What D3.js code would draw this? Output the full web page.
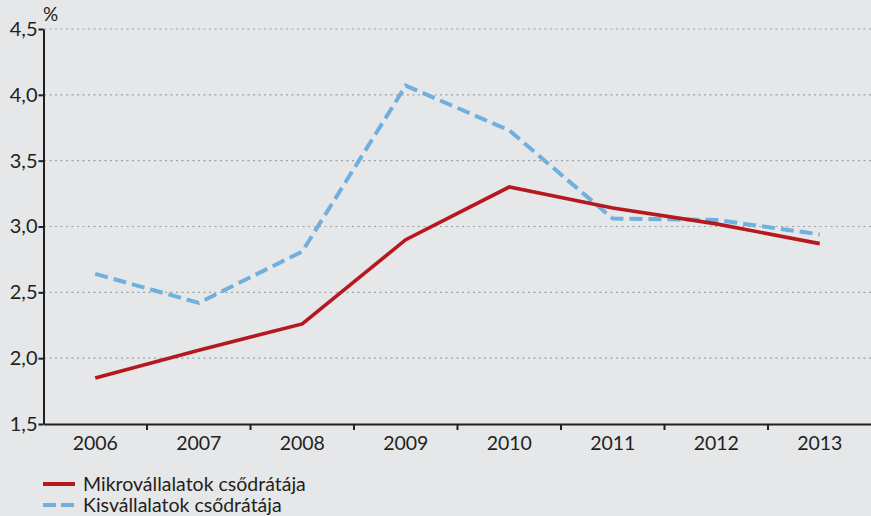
<!DOCTYPE html>
<html>
<head>
<meta charset="utf-8">
<script src="https://cdn.jsdelivr.net/npm/d3@7"></script>
<style>
  body { margin: 0; background: #e6e7e8; }
  svg { display: block; }
  .text { font-family: Lato, 'Open Sans', sans-serif; fill: #231f20; }
</style>
</head>
<body>
<svg class="chart"></svg>
<script>
const years = ['2006', '2007', '2008', '2009', '2010', '2011', '2012', '2013'];
const microRates = [1.85, 2.06, 2.26, 2.90, 3.30, 3.14, 3.02, 2.87];
const smallRates = [2.64, 2.42, 2.81, 4.07, 3.73, 3.06, 3.05, 2.94];
const yTicks = [1.5, 2.0, 2.5, 3.0, 3.5, 4.0, 4.5];
const seriesNames = ['Mikrovállalatok csődrátája', 'Kisvállalatok csődrátája'];

const startApp = () => {
  const width = 871;
  const height = 516;
  const chart = d3.select('.chart').attr('width', width).attr('height', height);

  const xScale = d3.scaleBand().domain(years).range([43.5, 871.5]);
  const yScale = d3.scaleLinear().domain([1.5, 4.5]).range([424, 29]);
  const fmt = d => d3.format('.1f')(d).replace('.', ',');

  // dotted gridlines
  chart.append('g')
    .selectAll('line')
    .data(yTicks.filter(t => t > 1.5))
    .enter()
    .append('line')
    .attr('x1', 44).attr('x2', width)
    .attr('y1', d => yScale(d)).attr('y2', d => yScale(d))
    .attr('stroke', '#9d9fa2').attr('stroke-width', 1.2)
    .attr('stroke-dasharray', '2,3.5');

  const yAxis = d3.axisLeft(yScale).tickValues(yTicks).tickFormat(fmt).tickSize(5).tickSizeOuter(0);
  const yG = chart.append('g').attr('transform', 'translate(43.5,0)').call(yAxis);
  yG.select('.domain').attr('stroke', '#231f20').attr('stroke-width', 2);
  yG.selectAll('.tick line').attr('stroke', '#231f20').attr('stroke-width', 2);
  yG.selectAll('.tick text').classed('text', true).attr('font-size', 20).attr('x', -6).attr('fill', '#231f20');

  const xAxis = d3.axisBottom(xScale).tickSize(0).tickSizeOuter(0);
  const xG = chart.append('g').attr('transform', 'translate(0,424)').call(xAxis);
  xG.select('.domain').attr('stroke', '#231f20').attr('stroke-width', 2);
  xG.selectAll('.tick text').classed('text', true).attr('font-size', 19.5).attr('dy', '1.2em').attr('fill', '#231f20');

  // ticks between categories
  chart.append('g')
    .selectAll('line')
    .data(years.slice(1))
    .enter()
    .append('line')
    .attr('x1', d => xScale(d)).attr('x2', d => xScale(d))
    .attr('y1', 424).attr('y2', 430)
    .attr('stroke', '#231f20').attr('stroke-width', 2);

  chart.append('text')
    .classed('text', true)
    .attr('x', 43).attr('y', 21)
    .attr('font-size', 19)
    .text('%');

  const line = d3.line()
    .x((d, i) => xScale(years[i]) + xScale.bandwidth() / 2)
    .y(d => yScale(d));

  chart.append('path')
    .datum(smallRates)
    .attr('d', line)
    .attr('fill', 'none')
    .attr('stroke', '#6fb0de')
    .attr('stroke-width', 4)
    .attr('stroke-dasharray', '13,6');

  chart.append('path')
    .datum(microRates)
    .attr('d', line)
    .attr('fill', 'none')
    .attr('stroke', '#b5191f')
    .attr('stroke-width', 3.6);

  // legend
  const legend = [
    { name: seriesNames[0], color: '#b5191f', dash: null, y: 484 },
    { name: seriesNames[1], color: '#6fb0de', dash: '13,5', y: 505 },
  ];
  legend.forEach(({ name, color, dash, y }) => {
    chart.append('line')
      .attr('x1', 43).attr('x2', 75).attr('y1', y).attr('y2', y)
      .attr('stroke', color).attr('stroke-width', 4)
      .attr('stroke-dasharray', dash);
    chart.append('text')
      .classed('text', true)
      .attr('x', 83).attr('y', y + 6.5)
      .attr('font-size', 19.5)
      .text(name);
  });
};

window.onload = startApp;
</script>
</body>
</html>
